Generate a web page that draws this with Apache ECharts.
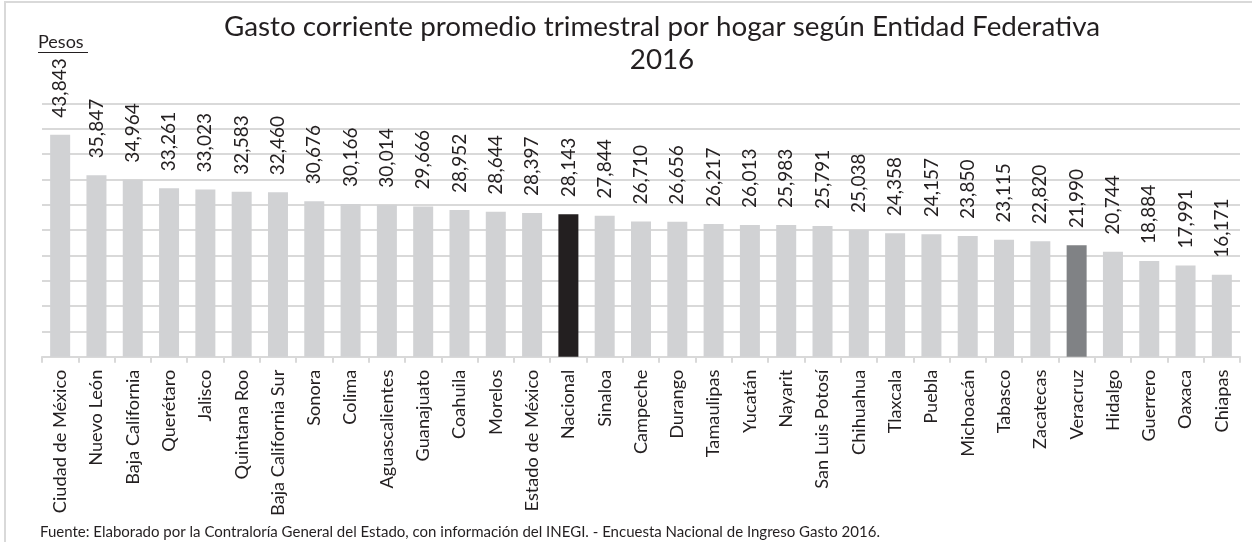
<!DOCTYPE html>
<html>
<head>
<meta charset="utf-8">
<script src="https://cdn.jsdelivr.net/npm/echarts@6/dist/echarts.min.js"></script>
<style>html,body{margin:0;padding:0;background:#fff;}#c{width:1252px;height:542px;}</style>
</head>
<body>
<div id="c"></div>
<script>
const categories = ["Ciudad de México","Nuevo León","Baja California","Querétaro","Jalisco","Quintana Roo","Baja California Sur","Sonora","Colima","Aguascalientes","Guanajuato","Coahuila","Morelos","Estado de México","Nacional","Sinaloa","Campeche","Durango","Tamaulipas","Yucatán","Nayarit","San Luis Potosí","Chihuahua","Tlaxcala","Puebla","Michoacán","Tabasco","Zacatecas","Veracruz","Hidalgo","Guerrero","Oaxaca","Chiapas"];
const values = [43843,35847,34964,33261,33023,32583,32460,30676,30166,30014,29666,28952,28644,28397,28143,27844,26710,26656,26217,26013,25983,25791,25038,24358,24157,23850,23115,22820,21990,20744,18884,17991,16171];
const highlight = {"Nacional":"#231f20","Veracruz":"#808285"};
const baseColor = "#d1d2d4";
const titleText = "Gasto corriente promedio trimestral por hogar según Entidad Federativa\n2016";
const unitText = "Pesos";
const sourceText = "Fuente: Elaborado por la Contraloría General del Estado, con información del INEGI. - Encuesta Nacional de Ingreso Gasto 2016.";

const font = "Lato, 'Liberation Sans', sans-serif";
const chart = echarts.init(document.getElementById('c'), null, {renderer:'canvas'});
chart.setOption({
  animation:false,
  backgroundColor:'#fff',
  title:{
    text:titleText,
    left:657, top:6, textAlign:'center',
    textStyle:{fontFamily:font, fontSize:27.8, fontWeight:'normal', color:'#231f20', lineHeight:33}
  },
  graphic:[
    {type:'rect', shape:{x:5,y:2,width:1400,height:800}, style:{fill:'none', stroke:'#d9d9d9', lineWidth:2}, silent:true},
    {type:'text', left:38, top:33, style:{text:unitText, font:"18px "+font, fill:'#231f20'}},
    {type:'line', shape:{x1:38,y1:52.5,x2:88,y2:52.5}, style:{stroke:'#231f20', lineWidth:1.2}},
    {type:'text', left:40, top:525, style:{text:sourceText, font:"15px "+font, fill:'#231f20'}}
  ],
  grid:{left:42, right:12, top:103.5, bottom:185.3, containLabel:false},
  xAxis:{
    type:'category', data:categories,
    axisLine:{show:true, lineStyle:{color:'#d9d9d9', width:2}},
    axisTick:{show:true, length:6, alignWithLabel:false, lineStyle:{color:'#d9d9d9', width:2}},
    axisLabel:{interval:0, rotate:90, margin:13, fontFamily:font, fontSize:18.2, color:'#231f20'}
  },
  yAxis:{
    type:'value', min:0, max:50000, interval:5000,
    axisLabel:{show:false}, axisLine:{show:false}, axisTick:{show:false},
    splitLine:{show:true, lineStyle:{color:'#d9d9d9', width:2}}
  },
  series:[{
    type:'bar',
    barWidth:20,
    data:values.map((v,i)=>({value:v, itemStyle:{color: highlight[categories[i]] || baseColor}})),
    label:{
      show:true, position:'top', rotate:90, align:'left', verticalAlign:'middle', distance:17,
      fontFamily:font, fontSize:19, color:'#231f20',
      formatter:(p)=>p.value.toLocaleString('en-US')
    }
  }]
});
</script>
</body>
</html>
